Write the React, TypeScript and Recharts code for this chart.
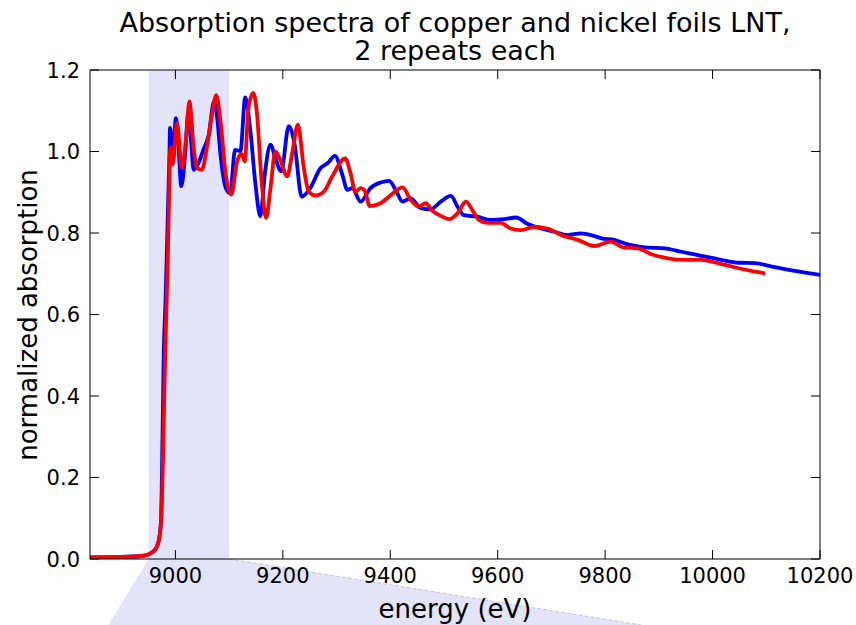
import React from "react";
import { LineChart, Line, XAxis, YAxis, ReferenceArea } from "recharts";

const blueEnergy = [
  8841, 8900, 8940, 8960, 8968, 8973, 8976, 8978, 8982, 8986, 8989, 8990, 8993, 8995, 9001, 9005,
  9011, 9018, 9024, 9029, 9034, 9043, 9052, 9062, 9072, 9078, 9084, 9094, 9102, 9111, 9121, 9130,
  9139, 9149, 9158, 9167, 9177, 9186, 9197, 9211, 9222, 9235, 9251, 9270, 9283, 9297, 9311, 9320,
  9329, 9345, 9363, 9382, 9398, 9410, 9423, 9438, 9457, 9475, 9494, 9513, 9525, 9537, 9562, 9587,
  9612, 9634, 9656, 9681, 9705, 9730, 9755, 9774, 9793, 9817, 9842, 9873, 9911, 9942, 9979, 10016,
  10048, 10079, 10116, 10153, 10200,
];
const blueAbs = [
  0.004, 0.005, 0.008, 0.02, 0.04, 0.09, 0.3, 0.48, 0.65, 0.85, 1.0, 1.058, 1.02, 0.977, 1.082, 1.03,
  0.915, 0.992, 1.095, 1.03, 0.955, 0.972, 1.004, 1.041, 1.123, 1.08, 0.992, 0.91, 0.898, 1.004, 1.001, 1.133,
  1.058, 0.92, 0.841, 0.951, 1.017, 0.984, 0.951, 1.062, 1.017, 0.889, 0.91, 0.959, 0.971, 0.989, 0.942, 0.906,
  0.91, 0.877, 0.91, 0.924, 0.928, 0.906, 0.877, 0.885, 0.861, 0.858, 0.877, 0.891, 0.865, 0.844, 0.84, 0.832,
  0.834, 0.838, 0.822, 0.811, 0.803, 0.795, 0.799, 0.795, 0.787, 0.783, 0.772, 0.765, 0.762, 0.754, 0.744, 0.734,
  0.727, 0.726, 0.716, 0.707, 0.697,
];

const redEnergy = [
  8841, 8900, 8940, 8960, 8968, 8972, 8975, 8977, 8980, 8983, 8986, 8988, 8990, 8992, 8995, 9003,
  9012, 9020, 9026, 9034, 9040, 9049, 9059, 9068, 9076, 9084, 9093, 9104, 9115, 9123, 9129, 9136,
  9145, 9152, 9160, 9169, 9177, 9186, 9195, 9208, 9218, 9228, 9239, 9248, 9261, 9276, 9292, 9316,
  9326, 9335, 9345, 9352, 9362, 9382, 9401, 9423, 9438, 9453, 9466, 9478, 9494, 9510, 9525, 9541,
  9553, 9565, 9581, 9606, 9624, 9643, 9668, 9693, 9718, 9749, 9780, 9811, 9833, 9861, 9886, 9917,
  9948, 9979, 10010, 10041, 10072, 10098,
];
const redAbs = [
  0.004, 0.005, 0.008, 0.02, 0.04, 0.07, 0.15, 0.25, 0.45, 0.6, 0.75, 0.88, 1.0, 1.01, 0.968, 1.07,
  0.96, 1.033, 1.123, 1.009, 0.96, 0.955, 1.013, 1.09, 1.138, 1.074, 0.951, 0.894, 0.976, 0.994, 0.976, 1.107,
  1.144, 1.09, 0.935, 0.837, 0.91, 1.0, 0.98, 0.939, 1.0, 1.066, 0.96, 0.902, 0.892, 0.901, 0.939, 0.983,
  0.947, 0.901, 0.91, 0.905, 0.866, 0.873, 0.893, 0.912, 0.881, 0.865, 0.873, 0.855, 0.842, 0.834, 0.848, 0.877,
  0.856, 0.832, 0.825, 0.825, 0.811, 0.807, 0.815, 0.811, 0.795, 0.783, 0.768, 0.779, 0.765, 0.762, 0.748, 0.738,
  0.734, 0.734, 0.726, 0.716, 0.707, 0.701,
];

const xTicks = [9000, 9200, 9400, 9600, 9800, 10000, 10200];
const yTicks = [0.0, 0.2, 0.4, 0.6, 0.8, 1.0, 1.2];
const xDomain = [8841, 10200];
const yDomain = [0, 1.2];
const shadeRange = [8950, 9100];
const titleLines = ["Absorption spectra of copper and nickel foils LNT,", "2 repeats each"];
const xLabel = "energy (eV)";
const yLabel = "normalized absorption";

const blueData = blueEnergy.map((e, i) => ({ e, v: blueAbs[i] }));
const redData = redEnergy.map((e, i) => ({ e, v: redAbs[i] }));

const FONT = "DejaVu Sans";
const TICK_IN = -9;

const BottomTick = (p: any) => (
  <text x={p.x} y={p.y + 24} textAnchor="middle" fontSize={21} fontFamily={FONT} fill="#000">
    {p.payload.value}
  </text>
);
const LeftTick = (p: any) => (
  <text x={p.x - 10} y={p.y + 7.5} textAnchor="end" fontSize={21} fontFamily={FONT} fill="#000">
    {Number(p.payload.value).toFixed(1)}
  </text>
);
const NoLabel = () => <g />;

const SHADE = "#e3e3fa";
const ShadeShape = (p: any) => {
  const { x, y, width, height } = p;
  const b = y + height;
  return (
    <g>
      <polygon
        points={`${x},${b} ${x + width},${b} ${x + width + 412},${b + 66} ${x - 40},${b + 66}`}
        fill={SHADE}
      />
      <line x1={x + width} y1={b} x2={x + width + 412} y2={b + 66} stroke="#c4c4dc" strokeWidth={1} strokeDasharray="4 2" />
      <rect x={x} y={y} width={width} height={height} fill={SHADE} />
    </g>
  );
};

const axisStroke = { stroke: "#000", strokeWidth: 1 };

export default function App() {
  return (
    <div style={{ position: "absolute", left: 0, top: 0, width: 856, height: 625, background: "#fff" }}>
      <LineChart width={856} height={625} margin={{ top: 69, right: 35, left: 0, bottom: 0 }}>
        <ReferenceArea
          x1={shadeRange[0]}
          x2={shadeRange[1]}
          ifOverflow="visible"
          shape={<ShadeShape />}
        />
        <XAxis
          dataKey="e"
          type="number"
          domain={xDomain}
          ticks={xTicks}
          allowDataOverflow
          height={66}
          tickSize={TICK_IN}
          tickMargin={9}
          tickLine={axisStroke}
          axisLine={axisStroke}
          tick={<BottomTick />}
        />
        <XAxis
          xAxisId="top"
          orientation="top"
          dataKey="e"
          type="number"
          domain={xDomain}
          ticks={xTicks}
          allowDataOverflow
          height={1}
          tickSize={TICK_IN}
          tickMargin={9}
          tickLine={axisStroke}
          axisLine={axisStroke}
          tick={<NoLabel />}
        />
        <YAxis
          type="number"
          domain={yDomain}
          ticks={yTicks}
          allowDataOverflow
          width={90}
          tickSize={TICK_IN}
          tickMargin={9}
          tickLine={axisStroke}
          axisLine={axisStroke}
          tick={<LeftTick />}
        />
        <YAxis
          yAxisId="right"
          orientation="right"
          type="number"
          domain={yDomain}
          ticks={yTicks}
          allowDataOverflow
          width={1}
          tickSize={TICK_IN}
          tickMargin={9}
          tickLine={axisStroke}
          axisLine={axisStroke}
          tick={<NoLabel />}
        />
        <Line
          data={blueData}
          dataKey="v"
          type="monotone"
          stroke="#0000ff"
          strokeWidth={3.8}
          dot={false}
          isAnimationActive={false}
        />
        <Line
          data={redData}
          dataKey="v"
          type="monotone"
          stroke="#ff0000"
          strokeWidth={3.8}
          dot={false}
          isAnimationActive={false}
        />
      </LineChart>
      <svg
        width={856}
        height={625}
        style={{ position: "absolute", left: 0, top: 0, pointerEvents: "none" }}
      >
        <text x={455} y={32} textAnchor="middle" fontSize={27} fontFamily={FONT} fill="#000">
          {titleLines[0]}
        </text>
        <text x={455} y={60} textAnchor="middle" fontSize={27} fontFamily={FONT} fill="#000">
          {titleLines[1]}
        </text>
        <text x={455} y={618} textAnchor="middle" fontSize={26} fontFamily={FONT} fill="#000">
          {xLabel}
        </text>
        <text
          x={37}
          y={315}
          textAnchor="middle"
          fontSize={26}
          fontFamily={FONT}
          fill="#000"
          transform="rotate(-90 37 315)"
        >
          {yLabel}
        </text>
      </svg>
    </div>
  );
}
